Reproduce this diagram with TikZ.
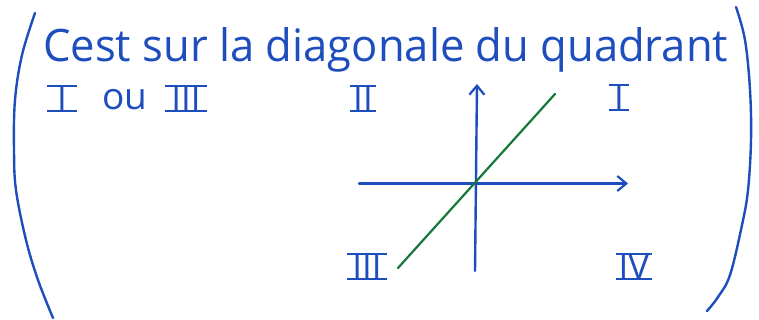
\documentclass[tikz,border=0pt]{standalone}
\usepackage{fontspec}
\setmainfont{Open Sans}
\usetikzlibrary{arrows.meta}
\definecolor{ink}{RGB}{30,78,190}
\definecolor{pen}{RGB}{22,120,58}
\newcommand\rn[2][4pt]{\setbox0\hbox{\kern#1#2\kern#1}\rlap{\rule[-1.2pt]{\wd0}{2pt}}\rlap{\raisebox{\dimexpr\ht0-0.6pt\relax}{\rule{\wd0}{2pt}}}\box0}
\begin{document}
\begin{tikzpicture}[x=1pt,y=-1pt,
  inkline/.style={draw=ink,line width=2.4pt,line cap=round,line join=round},
  axis/.style={inkline,-{Straight Barb[length=9pt,width=15pt,line width=2.2pt]}},
  numeral/.style={text=ink,font=\fontsize{35}{35}\selectfont,inner sep=0pt,anchor=base}]
\useasboundingbox[fill=white] (0,0) rectangle (759,320);
% parentheses
\draw[inkline] plot[smooth,tension=0.6] coordinates {(35,13) (22,55) (15,100) (14,150) (16,190) (26,240) (38,280) (53,318)};
\draw[inkline] plot[smooth,tension=0.6] coordinates {(736,7) (745,40) (750,90) (751,140) (748,190) (742,225) (730,275) (718,297) (707,311)};
% title
\node[text=ink,inner sep=0pt,anchor=base west] (title) at (43,62) {\resizebox{685pt}{34pt}{Cest sur la diagonale du quadrant}};
\node[numeral] (i1) at (62,111) {\rn[10pt]{I}};
\node[text=ink,inner sep=0pt,anchor=base,font=\fontsize{37}{37}\selectfont] (ou) at (125,110) {ou};
\node[numeral] (iii1) at (186,111) {\rn[6pt]{III}};
% axes
\coordinate (O) at (475,183.5);
\coordinate (xl) at (359,183.5);
\coordinate (xr) at (628,183.5);
\coordinate (yb) at (475,271);
\coordinate (yt) at (477,84);
\draw[axis] (xl) -- (xr);
\draw[axis] (yb) -- (yt);
\coordinate (g1) at (398,268);
\coordinate (g2) at (555,94);
\draw[draw=pen,line width=2.2pt,line cap=round] (g1) -- (g2);
% quadrant labels
\node[numeral] (q2) at (363,111) {\rn[3pt]{II}};
\node[numeral] (q1) at (619,110) {\rn[5pt]{I}};
\node[numeral] (q3) at (367,279) {\rn[5pt]{III}};
\node[numeral] (q4) at (634,279) {\rn[3pt]{IV}};
\end{tikzpicture}
\end{document}
